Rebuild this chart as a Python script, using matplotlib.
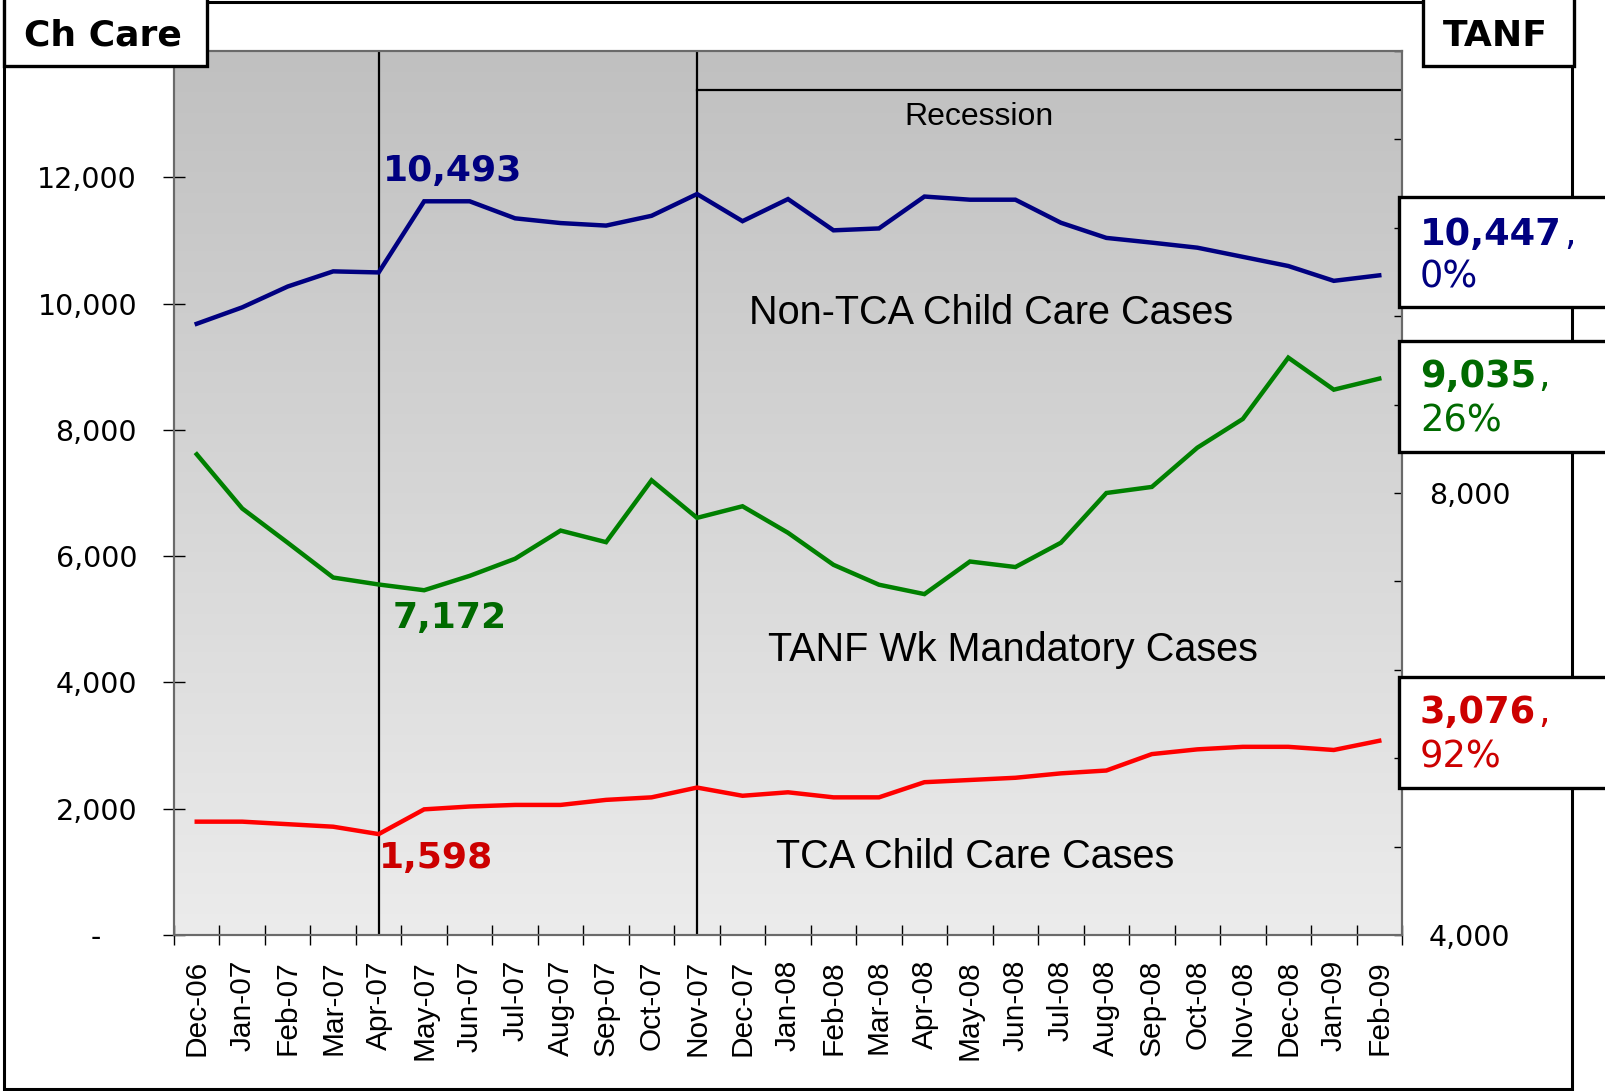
import numpy as np
import matplotlib
matplotlib.use("Agg")
import matplotlib.pyplot as plt
from matplotlib.patches import Rectangle
from matplotlib.colors import LinearSegmentedColormap
from matplotlib.ticker import FixedLocator, MultipleLocator, FuncFormatter

# monthly caseloads, Dec-06 .. Feb-09
months = ["Dec-06", "Jan-07", "Feb-07", "Mar-07", "Apr-07", "May-07", "Jun-07",
          "Jul-07", "Aug-07", "Sep-07", "Oct-07", "Nov-07", "Dec-07", "Jan-08",
          "Feb-08", "Mar-08", "Apr-08", "May-08", "Jun-08", "Jul-08", "Aug-08",
          "Sep-08", "Oct-08", "Nov-08", "Dec-08", "Jan-09", "Feb-09"]
non_tca = [9680, 9940, 10270, 10510, 10493, 11620, 11620, 11350, 11275, 11235,
           11390, 11735, 11305, 11655, 11160, 11190, 11695, 11645, 11645, 11280,
           11040, 10965, 10885, 10740, 10595, 10360, 10447]
tanf = [8350, 7860, 7550, 7235, 7172, 7120, 7250, 7405, 7660, 7555, 8115, 7775,
        7880, 7640, 7350, 7170, 7085, 7380, 7330, 7550, 8000, 8055, 8410, 8670,
        9225, 8935, 9035]
tca = [1795, 1795, 1755, 1715, 1598, 1990, 2035, 2060, 2060, 2140, 2180, 2335,
       2205, 2260, 2180, 2180, 2420, 2455, 2490, 2560, 2605, 2865, 2940, 2980,
       2980, 2930, 3076]

base_idx = 4       # Apr-07
recession_idx = 11  # Nov-07

NAVY = "#000080"
GREEN = "#008000"
GREEN_TXT = "#006a00"
RED = "#ff0000"
RED_TXT = "#cc0000"

W, H = 1606, 1091
fig = plt.figure(figsize=(W / 100, H / 100), dpi=100)
fig.patch.set_facecolor("white")


def fx(x):
    return x / W


def fy(y):
    return 1 - y / H


ax = fig.add_axes([fx(174), fy(935), (1402 - 174) / W, (935 - 51) / H])
x = np.arange(len(months))
ax.set_xlim(-0.5, len(months) - 0.5)
ax.set_ylim(0, 14000)

# gray gradient background
cmap = LinearSegmentedColormap.from_list("bg", ["#c0c0c0", "#ececec"])
ax.imshow(np.linspace(0, 1, 256).reshape(-1, 1), cmap=cmap, aspect="auto",
          extent=[-0.5, len(months) - 0.5, 0, 14000], origin="upper", zorder=0)

ax.axvline(base_idx, color="black", lw=1.6, zorder=2)
ax.axvline(recession_idx, color="black", lw=1.6, zorder=2)
ax.plot([recession_idx, len(months) - 0.5], [0.956, 0.956],
        transform=ax.get_xaxis_transform(), color="black", lw=1.6, zorder=2)
ax.text(17.2, 0.9163, "Recession", transform=ax.get_xaxis_transform(),
        ha="center", va="baseline", fontsize=23, family="Liberation Sans")

ax.plot(x, non_tca, color=NAVY, lw=3.2, zorder=3, solid_joinstyle="miter")
ax.plot(x, tca, color=RED, lw=3.2, zorder=3, solid_joinstyle="miter")

lab = dict(family="Liberation Sans", fontsize=28.5, ha="center", va="baseline")
ax.text(17.47, 9675, "Non-TCA Child Care Cases", **lab)
ax.text(17.95, 4339, "TANF Wk Mandatory Cases", **lab)
ax.text(17.12, 1061, "TCA Child Care Cases", **lab)

val = dict(family="DejaVu Sans", fontsize=26, fontweight="bold", va="baseline", ha="left")
ax.text(4.1, 11940, f"{non_tca[base_idx]:,}", color=NAVY, **val)
ax.text(4.0, 1061, f"{tca[base_idx]:,}", color=RED_TXT, **val)


def left_fmt(v, p):
    if v == 0:
        return "-    "
    if v >= 14000:
        return ""  # sits under the "Ch Care" box
    return f"{v:,.0f}"


# left axis
ax.yaxis.set_major_locator(MultipleLocator(2000))
ax.yaxis.set_major_formatter(FuncFormatter(left_fmt))
ax.tick_params(axis="y", direction="inout", length=15.8, width=1, pad=18.7,
               labelsize=20.5, colors="black")
for t in ax.get_yticklabels():
    t.set_family("DejaVu Sans")

ax.set_xticks(x)
ax.set_xticklabels(months, rotation=90, family="Liberation Sans", fontsize=21.5)
ax.tick_params(axis="x", which="major", length=0, pad=18)
ax.xaxis.set_minor_locator(FixedLocator(np.arange(-0.5, len(months), 1)))
ax.tick_params(axis="x", which="minor", direction="inout", length=13.7, width=1)

# right axis: TANF
ax2 = ax.twinx()
ax2.set_ylim(4000, 12000)
ax2.plot(x, tanf, color=GREEN, lw=3.2, zorder=3, solid_joinstyle="miter")
ax2.text(4.31, 6778, f"{tanf[base_idx]:,}", color=GREEN_TXT, **val)
ax2.yaxis.set_major_locator(FixedLocator([4000, 8000, 12000]))
ax2.yaxis.set_minor_locator(MultipleLocator(800))
ax2.yaxis.set_major_formatter(FuncFormatter(lambda v, p: "" if v >= 12000 else f"{v:,.0f}"))
ax2.tick_params(axis="y", which="both", direction="in", length=5.8, width=1,
                pad=19.4, labelsize=20.5)
for t in ax2.get_yticklabels():
    t.set_family("DejaVu Sans")

for a in (ax, ax2):
    for s in a.spines.values():
        s.set_color("#6a6a6a")
        s.set_linewidth(1.5)

# outer frame
fig.add_artist(Rectangle((fx(4), fy(1089)), (1572 - 4) / W, (1089 - 2) / H,
                         transform=fig.transFigure, fill=False, ec="black",
                         lw=2.2, zorder=5))


def box(x0, y0, x1, y1):
    fig.add_artist(Rectangle((fx(x0), fy(y1)), (x1 - x0) / W, (y1 - y0) / H,
                             transform=fig.transFigure, fc="white", ec="black",
                             lw=2.4, zorder=10))


box(4, -3, 207, 66)
fig.text(fx(24), fy(45), "Ch Care", fontsize=26, fontweight="bold",
         family="DejaVu Sans", va="baseline", zorder=11)
box(1423, -3, 1574, 66)
fig.text(fx(1443), fy(46), "TANF", fontsize=26, fontweight="bold",
         family="DejaVu Sans", va="baseline", zorder=11)

# end-value boxes
ends = [
    (non_tca, NAVY, 197, 307, 245, 288),
    (tanf, GREEN_TXT, 341, 452, 387, 432),
    (tca, RED_TXT, 677, 788, 723, 768),
]
boxed = []
for series, col, y0, y1, b1, b2 in ends:
    box(1399, y0, 1612, y1)
    t = fig.text(fx(1420), fy(b1), f"{series[-1]:,}", color=col, fontsize=26.5,
                 fontweight="bold", family="DejaVu Sans", va="baseline", zorder=11)
    pct = round((series[-1] / series[base_idx] - 1) * 100)
    fig.text(fx(1420), fy(b2), f"{pct}%", color=col, fontsize=26.5,
             family="DejaVu Sans", va="baseline", zorder=11)
    boxed.append((t, col, b1))

fig.canvas.draw()
r = fig.canvas.get_renderer()
for t, col, b1 in boxed:
    bb = t.get_window_extent(r)
    fig.text(bb.x1 / W + 2 / W, fy(b1), ",", color=col, fontsize=26.5,
             family="DejaVu Sans", va="baseline", zorder=11)

fig.savefig("out.png", dpi=100)
